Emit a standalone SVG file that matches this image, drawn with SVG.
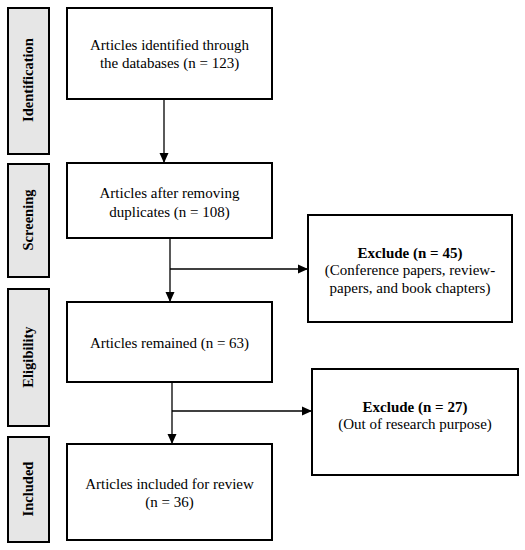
<svg xmlns="http://www.w3.org/2000/svg" width="525" height="550" viewBox="0 0 525 550">
<defs>
<style>
.stage{fill:#e6e6e6;stroke:#000;stroke-width:2}
.box{fill:#fff;stroke:#000;stroke-width:2}
.t{font-family:"Liberation Serif","Times New Roman",serif;font-size:15px;fill:#000;text-anchor:middle}
.b{font-weight:bold}
.sl{font-family:"Liberation Serif","Times New Roman",serif;font-size:14.5px;font-weight:bold;fill:#000;text-anchor:middle}
.c{fill:none;stroke:#000;stroke-width:1.3}
</style>
<marker id="ah" markerWidth="10" markerHeight="10" refX="9" refY="5" orient="auto" markerUnits="userSpaceOnUse">
<path d="M0,0.5 L10,5 L0,9.5 Z" fill="#000"/>
</marker>
</defs>
<rect width="525" height="550" fill="#fff"/>
<g id="stage-identification"><rect class="stage" x="8" y="8" width="41" height="146"/><text class="sl" transform="translate(33,80) rotate(-90)">Identification</text></g>
<g id="stage-screening"><rect class="stage" x="8" y="164" width="41" height="113"/><text class="sl" transform="translate(33,220) rotate(-90)">Screening</text></g>
<g id="stage-eligibility"><rect class="stage" x="8" y="289" width="41" height="137"/><text class="sl" transform="translate(33,357) rotate(-90)">Eligibility</text></g>
<g id="stage-included"><rect class="stage" x="8" y="437" width="41" height="105"/><text class="sl" transform="translate(33,489) rotate(-90)">Included</text></g>
<g id="identified"><rect class="box" x="67" y="8" width="205" height="91"/><text class="t" x="169.5" y="50">Articles identified through</text><text class="t" x="169.5" y="68">the databases (n = 123)</text></g>
<g id="screened"><rect class="box" x="67" y="163" width="205" height="75"/><text class="t" x="169.5" y="198">Articles after removing</text><text class="t" x="169.5" y="217">duplicates (n = 108)</text></g>
<g id="remained"><rect class="box" x="67" y="302" width="205" height="80"/><text class="t" x="169.5" y="348">Articles remained (n = 63)</text></g>
<g id="included"><rect class="box" x="67" y="444" width="205" height="96"/><text class="t" x="169.5" y="489">Articles included for review</text><text class="t" x="169.5" y="507">(n = 36)</text></g>
<g id="exclude1"><rect class="box" x="308" y="215" width="204" height="107"/><text class="t b" x="410" y="258">Exclude (n = 45)</text><text class="t" x="410" y="275">(Conference papers, review-</text><text class="t" x="410" y="293">papers, and book chapters)</text></g>
<g id="exclude2"><rect class="box" x="312" y="369" width="206" height="106"/><text class="t b" x="415" y="412">Exclude (n = 27)</text><text class="t" x="415" y="429">(Out of research purpose)</text></g>
<g id="connectors">
<line class="c" x1="164" y1="100" x2="164" y2="162" marker-end="url(#ah)"/>
<line class="c" x1="170" y1="239" x2="170" y2="301" marker-end="url(#ah)"/>
<line class="c" x1="170" y1="269" x2="307" y2="269" marker-end="url(#ah)"/>
<line class="c" x1="172" y1="383" x2="172" y2="443" marker-end="url(#ah)"/>
<line class="c" x1="172" y1="411" x2="311" y2="411" marker-end="url(#ah)"/>
</g>
</svg>
